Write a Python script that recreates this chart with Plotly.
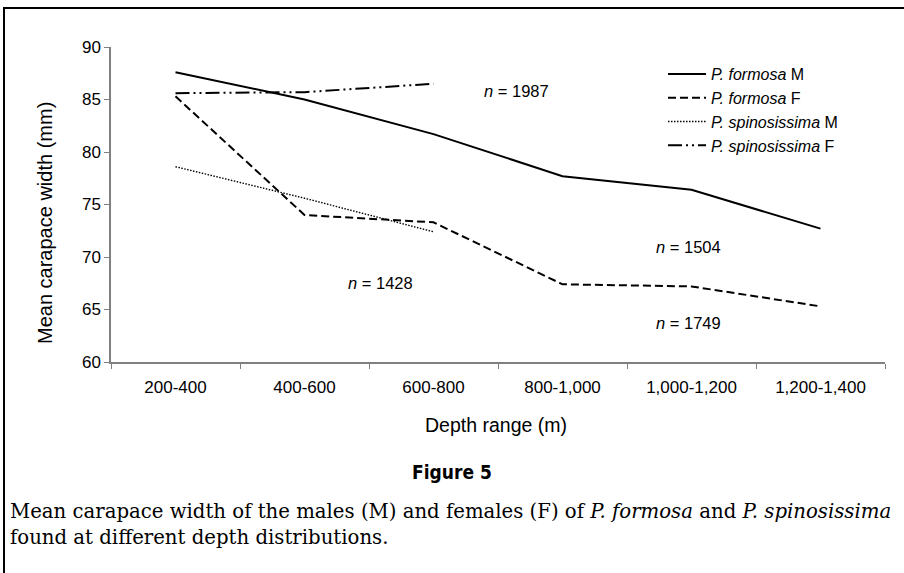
import plotly.graph_objects as go

depth = ["200-400", "400-600", "600-800", "800-1,000", "1,000-1,200", "1,200-1,400"]
formosa_m = [87.6, 85.0, 81.7, 77.7, 76.4, 72.7]
formosa_f = [85.3, 74.0, 73.3, 67.4, 67.2, 65.3]
spin_m = [78.6, 75.6, 72.4]
spin_f = [85.6, 85.7, 86.5]
n_labels = ["<i>n</i> = 1987", "<i>n</i> = 1504", "<i>n</i> = 1428", "<i>n</i> = 1749"]
n_x = [2.64, 3.98, 1.59, 3.98]
n_y = [85.8, 71.0, 67.5, 63.7]

W, H = 904, 573
L, R, T, B = 111, 19, 47, 211
PW, PH = W - L - R, H - T - B

def px_x(p):
    return (p - L) / PW

def px_y(p):
    return (H - B - p) / PH

FONT = "Liberation Sans, Arial, sans-serif"

fig = go.Figure()
fig.add_trace(go.Scatter(x=depth, y=formosa_m, mode="lines", name="<i>P. formosa</i> M",
                         line=dict(color="black", width=2)))
fig.add_trace(go.Scatter(x=depth, y=formosa_f, mode="lines", name="<i>P. formosa</i> F",
                         line=dict(color="black", width=2, dash="8px,4px")))
fig.add_trace(go.Scatter(x=depth[:3], y=spin_m, mode="lines", name="<i>P. spinosissima</i> M",
                         line=dict(color="black", width=1.4, dash="1.5px,1.5px")))
fig.add_trace(go.Scatter(x=depth[:3], y=spin_f, mode="lines", name="<i>P. spinosissima</i> F",
                         line=dict(color="black", width=2, dash="14px,4px,2px,4px,2px,4px")))

for t, x, y in zip(n_labels, n_x, n_y):
    fig.add_annotation(x=x, y=y, text=t, showarrow=False, xanchor="center", yanchor="middle",
                       font=dict(family=FONT, size=16.5, color="black"))

# axis titles
fig.add_annotation(xref="paper", yref="paper", x=px_x(496), y=px_y(425), text="Depth range (m)",
                   xanchor="center", yanchor="middle",
                   showarrow=False, font=dict(family=FONT, size=19.5, color="black"))
fig.add_annotation(xref="paper", yref="paper", x=px_x(45), y=px_y(223),
                   text="Mean carapace width (mm)", textangle=-90, xanchor="center", yanchor="middle",
                   showarrow=False, font=dict(family=FONT, size=20, color="black"))
# caption
fig.add_annotation(xref="paper", yref="paper", x=px_x(452), y=px_y(472), text="<b>Figure 5</b>",
                   xanchor="center", yanchor="middle",
                   showarrow=False, font=dict(family="DejaVu Sans Condensed, DejaVu Sans, sans-serif",
                                              size=19, color="black"))
fig.add_annotation(xref="paper", yref="paper", x=px_x(8), y=px_y(511), xanchor="left", yanchor="middle",
                   text="Mean carapace width of the males (M) and females (F) of <i>P. formosa</i> and <i>P. spinosissima</i>",
                   showarrow=False, font=dict(family="DejaVu Serif, serif", size=19.7, color="black"))
fig.add_annotation(xref="paper", yref="paper", x=px_x(8), y=px_y(537), xanchor="left", yanchor="middle",
                   text="found at different depth distributions.",
                   showarrow=False, font=dict(family="DejaVu Serif, serif", size=19.7, color="black"))

# frame lines
fig.add_shape(type="line", xref="paper", yref="paper", x0=px_x(3), x1=px_x(905),
              y0=px_y(8), y1=px_y(8), line=dict(color="black", width=2))
fig.add_shape(type="line", xref="paper", yref="paper", x0=px_x(4), x1=px_x(4),
              y0=px_y(8), y1=px_y(574), line=dict(color="black", width=2))

fig.update_layout(
    width=W, height=H,
    margin=dict(l=L, r=R, t=T, b=B),
    plot_bgcolor="white", paper_bgcolor="white",
    font=dict(family=FONT, size=17, color="black"),
    showlegend=True,
    legend=dict(x=px_x(663), y=px_y(57), xanchor="left", yanchor="top",
                bgcolor="rgba(0,0,0,0)", font=dict(family=FONT, size=16, color="black"),
                tracegroupgap=0, itemwidth=38),
    xaxis=dict(type="category", range=[-0.5, 5.5], showline=True, linecolor="#808080", linewidth=1.5,
               ticks="outside", tickson="boundaries", ticklen=5, tickcolor="#808080",
               ticklabelstandoff=9,
               showgrid=False, zeroline=False, tickfont=dict(family=FONT, size=17, color="black")),
    yaxis=dict(range=[60, 90], dtick=5, showline=True, linecolor="#808080", linewidth=1.5,
               ticks="outside", ticklen=5, tickcolor="#808080",
               showgrid=False, zeroline=False, tickfont=dict(family=FONT, size=17, color="black")),
)

fig.write_html("out.html")
